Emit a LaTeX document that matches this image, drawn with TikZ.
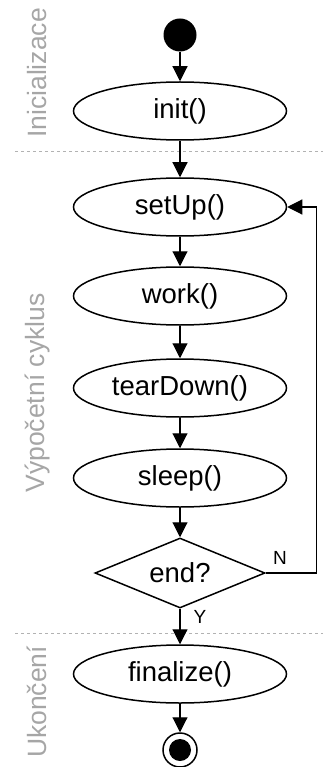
\documentclass[tikz,border=0pt]{standalone}
\usepackage{fontspec}
\setmainfont{Liberation Sans}
\usetikzlibrary{shapes.geometric,arrows.meta}

\tikzset{
    state/.style={draw,ellipse,line width=1.5pt,minimum width=213pt,minimum height=58pt,inner sep=0pt,font=\fontsize{27.5}{32}\selectfont},
    decision/.style={draw,diamond,line width=1.5pt,minimum width=170pt,minimum height=70pt,aspect=2.4,inner sep=0pt,font=\fontsize{27.5}{32}\selectfont},
    initial/.style={circle,fill=black,minimum size=33pt,inner sep=0pt},
    final/.style={circle,draw,line width=1.5pt,minimum size=34pt,inner sep=0pt},
    finaldot/.style={circle,fill=black,minimum size=22pt,inner sep=0pt},
    flow/.style={line width=1.1pt,-{Triangle[length=15pt,width=15pt]}},
    phase/.style={rotate=90,text=gray!70,font=\fontsize{26.5}{30}\selectfont},
    divider/.style={gray!60,line width=1pt,dash pattern=on 3pt off 3pt},
    guard/.style={font=\fontsize{19}{22}\selectfont},
}

\begin{document}
    \begin{tikzpicture}[x=1pt,y=-1pt]
        \useasboundingbox (0,0) rectangle (323,767);
        % Phases
        \draw (37,73) node[phase](phinit) {Inicializace};
        \draw (37,393) node[phase](phloop) {Výpočetní cyklus};
        \draw (37,702) node[phase](phend) {Ukončení};
        \draw[divider] (15,152) -- (323,152);
        \draw[divider] (15,633) -- (323,633);
        % Activities
        \draw (180,35) node[initial](start) {};
        \draw (180,111) node[state](init) {init()};
        \draw (180,207) node[state](setup) {setUp()};
        \draw (180,296) node[state](work) {work()};
        \draw (180,388) node[state](teardown) {tearDown()};
        \draw (180,478) node[state](sleep) {sleep()};
        \draw (180,573) node[decision](end) {end?};
        \draw (180,674) node[state](finalize) {finalize()};
        \draw (180,750) node[final](stop) {};
        \draw (180,750) node[finaldot](stopdot) {};
        % Flow
        \draw[flow] (start) -- (init);
        \draw[flow] (init) -- (setup);
        \draw[flow] (setup) -- (work);
        \draw[flow] (work) -- (teardown);
        \draw[flow] (teardown) -- (sleep);
        \draw[flow] (sleep) -- (end);
        \draw[flow] (end) -- (finalize);
        \draw[flow] (finalize) -- (stop);
        \draw[flow] (end.east) -- ++(51,0) |- (setup.east);
        \draw (280,558) node[guard](no) {N};
        \draw (200,617) node[guard](yes) {Y};
    \end{tikzpicture}
\end{document}
